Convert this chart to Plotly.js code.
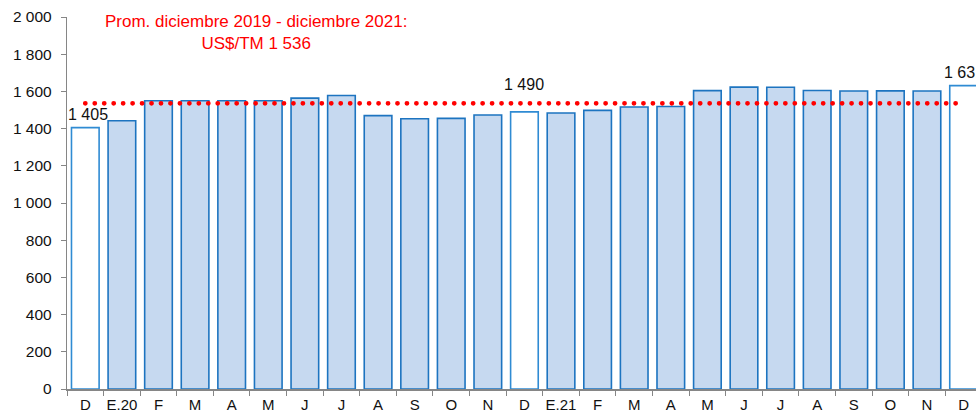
<!DOCTYPE html>
<html>
<head>
<meta charset="utf-8">
<script src="https://cdn.plot.ly/plotly-3.0.1.min.js"></script>
<style>
  html, body { margin: 0; padding: 0; background: #fff; }
  #chart { width: 976px; height: 416px; }
  .scatterlayer .js-line { stroke-linecap: round; }
</style>
</head>
<body>
<div id="chart"></div>
<script>
// ---- data ----
const categories = ['D','E.20','F','M','A','M','J','J','A','S','O','N','D','E.21','F','M','A','M','J','J','A','S','O','N','D'];
const prices = [1405,1442,1550,1550,1550,1550,1564,1578,1470,1453,1455,1473,1490,1484,1498,1516,1519,1604,1623,1622,1605,1602,1603,1602,1631];
const average = 1536;
const averageText = ['Prom. diciembre 2019 - diciembre 2021:', 'US$/TM 1 536'];
const yTicks = [0,200,400,600,800,1000,1200,1400,1600,1800,2000];

// ---- helpers ----
const fmt = v => String(Math.round(v)).replace(/\B(?=(\d{3})+(?!\d))/g, ' ');
const idx = categories.map((_, i) => i);
const isDec = categories.map(c => c === 'D');

const FONT = 'Liberation Sans, Arial, sans-serif';

const bars = {
  type: 'bar',
  x: idx,
  y: prices,
  marker: {
    color: isDec.map(d => d ? '#ffffff' : '#c6d9f0'),
    line: { color: isDec.map(d => d ? '#2f8bd3' : '#1d74c0'), width: 1.6 }
  },
  hoverinfo: 'none'
};

const avgLine = {
  type: 'scatter',
  mode: 'lines',
  x: idx,
  y: idx.map(() => average),
  line: { color: '#ff0000', width: 4.8, dash: '0.01px,9.45px' },
  hoverinfo: 'none'
};

const annotations = [];
idx.forEach(i => {
  if (isDec[i]) {
    annotations.push({
      x: i, y: prices[i], xref: 'x', yref: 'y',
      text: fmt(prices[i]), showarrow: false,
      yanchor: 'middle', yshift: (i === 12 ? 27 : 13), xshift: (i === 0 ? 3 : 0),
      font: { family: FONT, size: 16, color: '#111' }
    });
  }
});
annotations.push({
  x: 0.208, y: 0.958, xref: 'paper', yref: 'paper',
  text: averageText.join('<br>'), showarrow: false,
  xanchor: 'center', yanchor: 'middle', align: 'center',
  font: { family: FONT, size: 17, color: '#ff0000' }
});

const layout = {
  width: 976, height: 416,
  margin: { l: 67, r: 0, t: 17, b: 27, pad: 0 },
  paper_bgcolor: '#ffffff', plot_bgcolor: '#ffffff',
  showlegend: false,
  bargap: 0.245,
  separators: ', ',
  font: { family: FONT, size: 15.5, color: '#111' },
  xaxis: {
    type: 'category',
    range: [-0.5, 24.34],
    tickvals: idx, ticktext: categories,
    tickson: 'boundaries',
    tickangle: 0,
    automargin: false,
    ticks: 'outside', ticklen: 5, tickcolor: '#868686', tickwidth: 1,
    showline: true, linecolor: '#868686', linewidth: 1.6,
    showgrid: false, zeroline: false,
    ticklabelstandoff: 1,
    tickfont: { family: FONT, size: 15, color: '#111' }
  },
  yaxis: {
    range: [0, 2000],
    tickvals: yTicks,
    ticktext: yTicks.map(fmt),
    automargin: false,
    ticks: 'outside', ticklen: 5, tickcolor: '#868686', tickwidth: 1,
    showline: true, linecolor: '#868686', linewidth: 1.2,
    showgrid: false, zeroline: false,
    ticklabelstandoff: 6,
    tickfont: { family: FONT, size: 15.5, color: '#111' }
  },
  annotations: annotations
};

Plotly.newPlot('chart', [bars, avgLine], layout, { staticPlot: true, displayModeBar: false });
</script>
</body>
</html>
